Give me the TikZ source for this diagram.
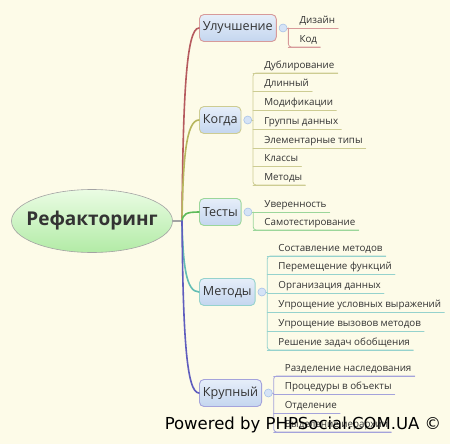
\documentclass[tikz,border=0pt]{standalone}
\usepackage{fontspec}
\setmainfont{Open Sans}
\newfontfamily\wmfont{DejaVu Sans}
\usetikzlibrary{shapes.geometric,positioning}
\definecolor{bgc}{HTML}{FDFBE8}\definecolor{txt}{HTML}{333333}
\definecolor{tpt}{HTML}{E6EEF9}\definecolor{tpb}{HTML}{C4D6EF}
\definecolor{knb}{HTML}{A9C3E8}\definecolor{knf}{HTML}{D5E3F6}
\definecolor{rtt}{HTML}{EAFCE4}\definecolor{rtb}{HTML}{B2EBA5}\definecolor{rtd}{HTML}{A3A3A3}
\definecolor{rd}{HTML}{B65A5E}\definecolor{rdl}{HTML}{D79A9A}
\definecolor{ol}{HTML}{B7B65E}\definecolor{oll}{HTML}{CDCC92}
\definecolor{gr}{HTML}{5DBB5A}\definecolor{grl}{HTML}{9BD69A}
\definecolor{tl}{HTML}{62BDB4}\definecolor{tll}{HTML}{95D2CD}
\definecolor{pu}{HTML}{5F5DBE}\definecolor{pul}{HTML}{A4A3DB}
\begin{document}
\begin{tikzpicture}[x=1pt,y=-1pt,line cap=round,line join=round,
 topic/.style={draw=#1,line width=0.9pt,rounded corners=4.5pt,top color=tpt,bottom color=tpb,minimum height=27pt,inner xsep=3.5pt,font=\fontsize{12.6}{13}\selectfont,text=txt,anchor=west},
 knob/.style={circle,draw=knb,fill=knf,line width=0.6pt,minimum size=8pt,inner sep=0pt,right=2pt of #1},
 item/.style={anchor=south west,xshift=8pt,inner xsep=3pt,inner ysep=2pt,text height=7pt,text depth=2pt,font=\fontsize{9.8}{11}\selectfont,text=txt},
 twig/.style={draw=#1,line width=0.8pt},
 limb/.style={draw=#1,line width=1.6pt}]
\fill[bgc] (0,0) rectangle (450,444);
\useasboundingbox (0,0) rectangle (450,444);
\node[ellipse,draw=rtd,line width=0.6pt,top color=rtt,bottom color=rtb,minimum width=161pt,minimum height=63pt,inner sep=0pt] (root) at (92,221) {};
\node[font=\bfseries\fontsize{19}{19}\selectfont,text=txt] (rootlab) at (root.center) {Рефакторинг};
\coordinate (hub) at (182,221);
\draw[limb=rtd] (root.east) -- (hub);
\foreach \n/\lab/\y/\c in {ub/Улучшение/28/rdl,kg/Когда/120/oll,ts/Тесты/212/grl,mt/Методы/292/tll,kr/Крупный/393/pul}{\node[topic=\c] (\n) at (199,\y) {\lab};\node[knob=\n] (\n k) {};\coordinate (\n b) at ([xshift=1pt]\n k.east);\draw[twig=\c] (\n k.east) -- (\n b);}
\foreach \n/\c/\cy in {ub/rd/100,kg/ol/160,ts/gr/214,mt/tl/265,kr/pu/330}{\draw[limb=\c] (hub) .. controls (183,\cy) and (186,0 |- \n.west) .. (\n.west);}
\foreach \t/\y [count=\i] in {Дизайн/28,Код/47}{\node[item] (ub\i) at (ubb |- 0,\y) {\t};\draw[twig=rdl] (ubb |- ub\i.south) -- (ub\i.south east);}
\draw[twig=rdl,rounded corners=3pt] (ubb |- ub1.south) -- (ubb |- ub2.south) -- (ub2.south east);
\foreach \t/\y [count=\i] in {Дублирование/73,Длинный/91,Модификации/110,Группы данных/129,Элементарные типы/148,Классы/166,Методы/185}{\node[item] (kg\i) at (kgb |- 0,\y) {\t};\draw[twig=oll] (kgb |- kg\i.south) -- (kg\i.south east);}
\draw[twig=oll,rounded corners=3pt] (kg1.south east) -- (kgb |- kg1.south) -- (kgb |- kg7.south) -- (kg7.south east);
\foreach \t/\y [count=\i] in {Уверенность/212,Самотестирование/230}{\node[item] (ts\i) at (tsb |- 0,\y) {\t};\draw[twig=grl] (tsb |- ts\i.south) -- (ts\i.south east);}
\draw[twig=grl,rounded corners=3pt] (tsb |- ts1.south) -- (tsb |- ts2.south) -- (ts2.south east);
\foreach \t/\y [count=\i] in {Составление методов/256,Перемещение функций/274,Организация данных/293,Упрощение условных выражений/312,Упрощение вызовов методов/331,Решение задач обобщения/350}{\node[item] (mt\i) at (mtb |- 0,\y) {\t};\draw[twig=tll] (mtb |- mt\i.south) -- (mt\i.south east);}
\draw[twig=tll,rounded corners=3pt] (mt1.south east) -- (mtb |- mt1.south) -- (mtb |- mt6.south) -- (mt6.south east);
\foreach \t/\y [count=\i] in {Разделение наследования/376,Процедуры в объекты/394,Отделение/413,Выделение иерархии/432}{\node[item] (kr\i) at (krb |- 0,\y) {\t};\draw[twig=pul] (krb |- kr\i.south) -- (kr\i.south east);}
\draw[twig=pul,rounded corners=3pt] (kr1.south east) -- (krb |- kr1.south) -- (krb |- kr4.south) -- (kr4.south east);
\node[font=\wmfont\fontsize{16.5}{17}\selectfont,text=black,inner sep=0pt] (wm) at (303,425) {Powered by PHPSocial.COM.UA ©};
\end{tikzpicture}
\end{document}
